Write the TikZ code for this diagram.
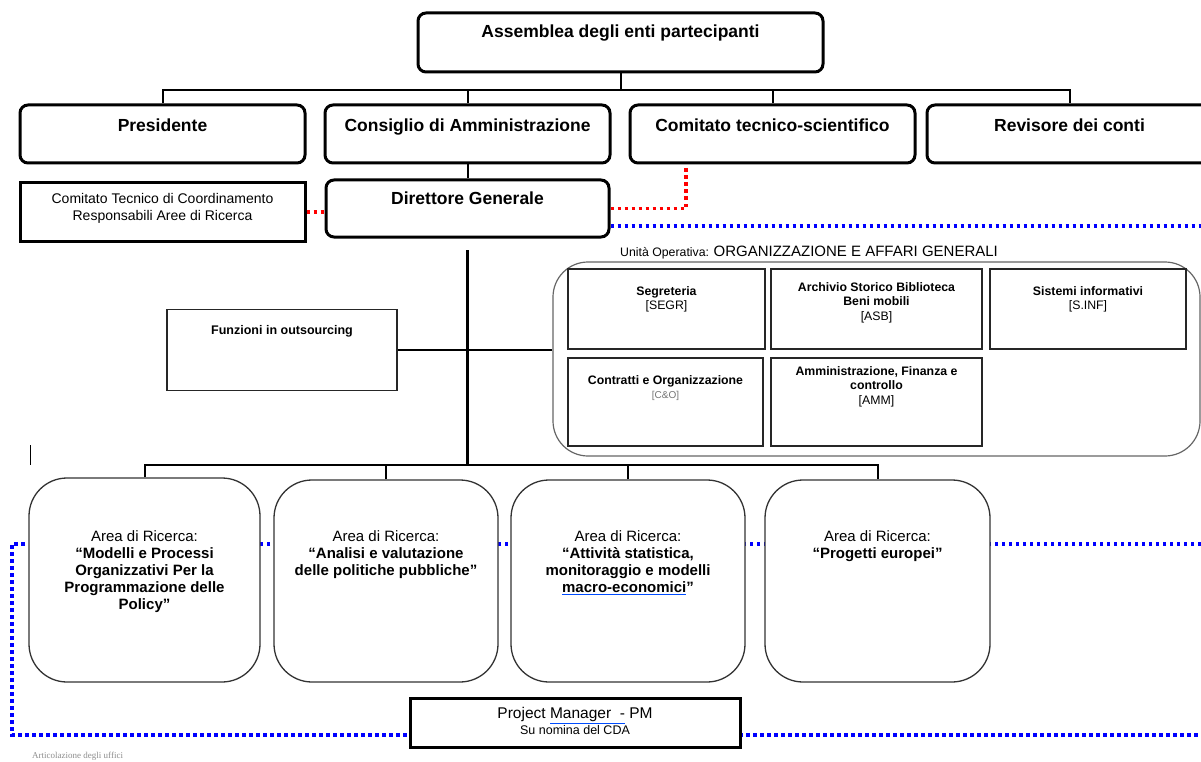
\documentclass[tikz,border=0pt]{standalone}
\usepackage{fontspec}
\setmainfont{Liberation Sans}
\newfontfamily\notefont{Liberation Serif}
\usetikzlibrary{positioning}

\newcommand{\spellmark}[1]{\textcolor{blue!70!cyan}{\underline{\textcolor{black}{#1}}}}

\begin{document}
\begin{tikzpicture}
[x=1pt, y=-1pt,
 every node/.style={inner sep=0pt},
 headbox/.style={draw=black, line width=3pt, rounded corners=8pt, minimum width=285pt, minimum height=58pt},
 squarebox/.style={draw=black, line width=3pt, fill=white},
 thinbox/.style={draw=black!85, line width=1.3pt},
 areabox/.style={draw=black!80, line width=1.3pt, rounded corners=38pt, fill=white, minimum height=202pt},
 headtext/.style={font=\fontsize{17.5}{20}\selectfont\bfseries},
 smalltext/.style={font=\fontsize{12.3}{14.5}\selectfont, align=center},
 areatext/.style={font=\fontsize{15}{17}\selectfont, align=center},
 link/.style={draw=black, line width=2pt},
 reddots/.style={draw=red, line width=3.5pt, dash pattern=on 3.5pt off 3.5pt},
 bluedots/.style={draw=blue, line width=3.5pt, dash pattern=on 3.5pt off 3.5pt}]
\useasboundingbox (0,0) rectangle (1201,762);
\clip (0,0) rectangle (1201,762);

% governing bodies
\node (asm) [headbox, minimum width=405pt, minimum height=59pt] at (620.5, 42.5) {};
\node (asm-t) [headtext, below=13pt of asm.north] {Assemblea degli enti partecipanti};
\node (pres) [headbox] at (162.5, 134) {};
\node (pres-t) [headtext, below=15pt of pres.north] {Presidente};
\node (cda) [headbox] at (467.5, 134) {};
\node (cda-t) [headtext, below=15pt of cda.north] {Consiglio di Amministrazione};
\node (cts) [headbox] at (772.5, 134) {};
\node (cts-t) [headtext, below=15pt of cts.north] {Comitato tecnico-scientifico};
\node (rev) [headbox] at (1069.5, 134) {};
\node (rev-t) [headtext, below=15pt of rev.north] {Revisore dei conti};

\coordinate (topbar) at (620.5, 90);
\draw [link] (asm.south) -- (topbar);
\draw [link] (pres.north) |- (topbar) -| (rev.north);
\draw [link] (cda.north) -- (cda.north |- topbar);
\draw [link] (cts.north) -- (cts.north |- topbar);

% direction
\node (dg) [headbox, minimum width=283pt, minimum height=57pt] at (467.5, 208.5) {};
\node (dg-t) [headtext, below=13pt of dg.north] {Direttore Generale};
\node (ctc) [squarebox, minimum width=285pt, minimum height=58pt] at (162.5, 212) {};
\node (ctc-t) [font=\fontsize{14}{17}\selectfont, align=center, below=12pt of ctc.north] {Comitato Tecnico di Coordinamento\\Responsabili Aree di Ricerca};
\draw [link] (cda.south) -- (dg.north);

\coordinate (cts-in) at (686, 168);
\coordinate (uo-out) at (1201, 226);
\draw [reddots] (ctc.east) -- (ctc.east -| dg.west);
\draw [reddots] (dg.east) -| (cts-in);
\draw [bluedots] (dg.east |- uo-out) -- (uo-out);

% staff and operative unit
\node (out) [thinbox, minimum width=230pt, minimum height=81pt] at (282, 350) {};
\node (out-t) [font=\fontsize{12.5}{15}\selectfont\bfseries, below=16.5pt of out.north] {Funzioni in outsourcing};

\node (uo) [draw=black!60, line width=1.2pt, rounded corners=35pt, minimum width=647pt, minimum height=194pt] at (876.5, 359) {};
\node (uo-t) [anchor=base west] at (620, 256) {\fontsize{12.3}{14}\selectfont Unità Operativa: \fontsize{15}{17}\selectfont ORGANIZZAZIONE E AFFARI GENERALI};

\node (segr) [thinbox, minimum width=197pt, minimum height=80pt] at (666.5, 309) {};
\node (segr-t) [smalltext, below=18pt of segr.north] {\textbf{Segreteria}\\{[SEGR]}};
\node (asb) [thinbox, minimum width=211pt, minimum height=80pt] at (876.5, 309) {};
\node (asb-t) [smalltext, below=14pt of asb.north] {\textbf{Archivio Storico Biblioteca}\\\textbf{Beni mobili}\\{[ASB]}};
\node (sinf) [thinbox, minimum width=196pt, minimum height=80pt] at (1088, 309) {};
\node (sinf-t) [smalltext, below=18pt of sinf.north] {\textbf{Sistemi informativi}\\{[S.INF]}};
\node (cno) [thinbox, minimum width=195pt, minimum height=88pt] at (665.5, 402) {};
\node (cno-t) [smalltext, below=18pt of cno.north] {\textbf{Contratti e Organizzazione}\\{\color{black!55}\fontsize{10}{12}\selectfont[C\&O]}};
\node (amm) [thinbox, minimum width=211pt, minimum height=88pt] at (876.5, 402) {};
\node (amm-t) [smalltext, below=9pt of amm.north] {\textbf{Amministrazione, Finanza e}\\\textbf{controllo}\\{[AMM]}};

\coordinate (stem) at (467.5, 250);
\coordinate (hub) at (467.5, 465);
\draw [link, line width=2.5pt] (stem) -- (hub);
\draw [link] (out.east) -- (out.east -| uo.west);
\draw [line width=1pt] (30, 445) -- (30, 465);

% research areas
\coordinate (ar-out) at (1201, 544);
\coordinate (ar-in) at (12, 544);
\coordinate (pm-in) at (12, 735);
\coordinate (pm-out) at (1201, 735);
\draw [bluedots] (ar-out) -- (ar-in) -- (pm-in) -- (pm-out);

\node (ar1) [areabox, minimum width=231pt, minimum height=204pt] at (144.5, 580) {};
\node (ar1-t) [areatext, below=53pt of ar1.north] {Area di Ricerca:\\\textbf{“Modelli e Processi}\\\textbf{Organizzativi Per la}\\\textbf{Programmazione delle}\\\textbf{Policy”}};
\node (ar2) [areabox, minimum width=224pt] at (386, 581) {};
\node (ar2-t) [areatext, below=51pt of ar2.north] {Area di Ricerca:\\\textbf{“Analisi e valutazione}\\\textbf{delle politiche pubbliche”}};
\node (ar3) [areabox, minimum width=234pt] at (628, 581) {};
\node (ar3-t) [areatext, below=51pt of ar3.north] {Area di Ricerca:\\\textbf{“Attività statistica,}\\\textbf{monitoraggio e modelli}\\\textbf{\spellmark{macro-economici}”}};
\node (ar4) [areabox, minimum width=225pt] at (877.5, 581) {};
\node (ar4-t) [areatext, below=51pt of ar4.north] {Area di Ricerca:\\\textbf{“Progetti europei”}};

\draw [link] (ar1.north) |- (hub) -| (ar4.north);
\draw [link] (ar2.north) -- (ar2.north |- hub);
\draw [link] (ar3.north) -- (ar3.north |- hub);

\node (pm) [squarebox, minimum width=330pt, minimum height=49pt] at (575, 722.5) {};
\node (pm-t) [font=\fontsize{15.5}{14}\selectfont, align=center, below=11pt of pm.north] {Project \spellmark{Manager\ \ -} PM\\{\fontsize{12.5}{14}\selectfont Su nomina del CDA}};

\node (caption) [anchor=base west, text=black!45, font=\notefont\fontsize{9}{11}\selectfont] at (32, 758) {Articolazione degli uffici};
\end{tikzpicture}
\end{document}
